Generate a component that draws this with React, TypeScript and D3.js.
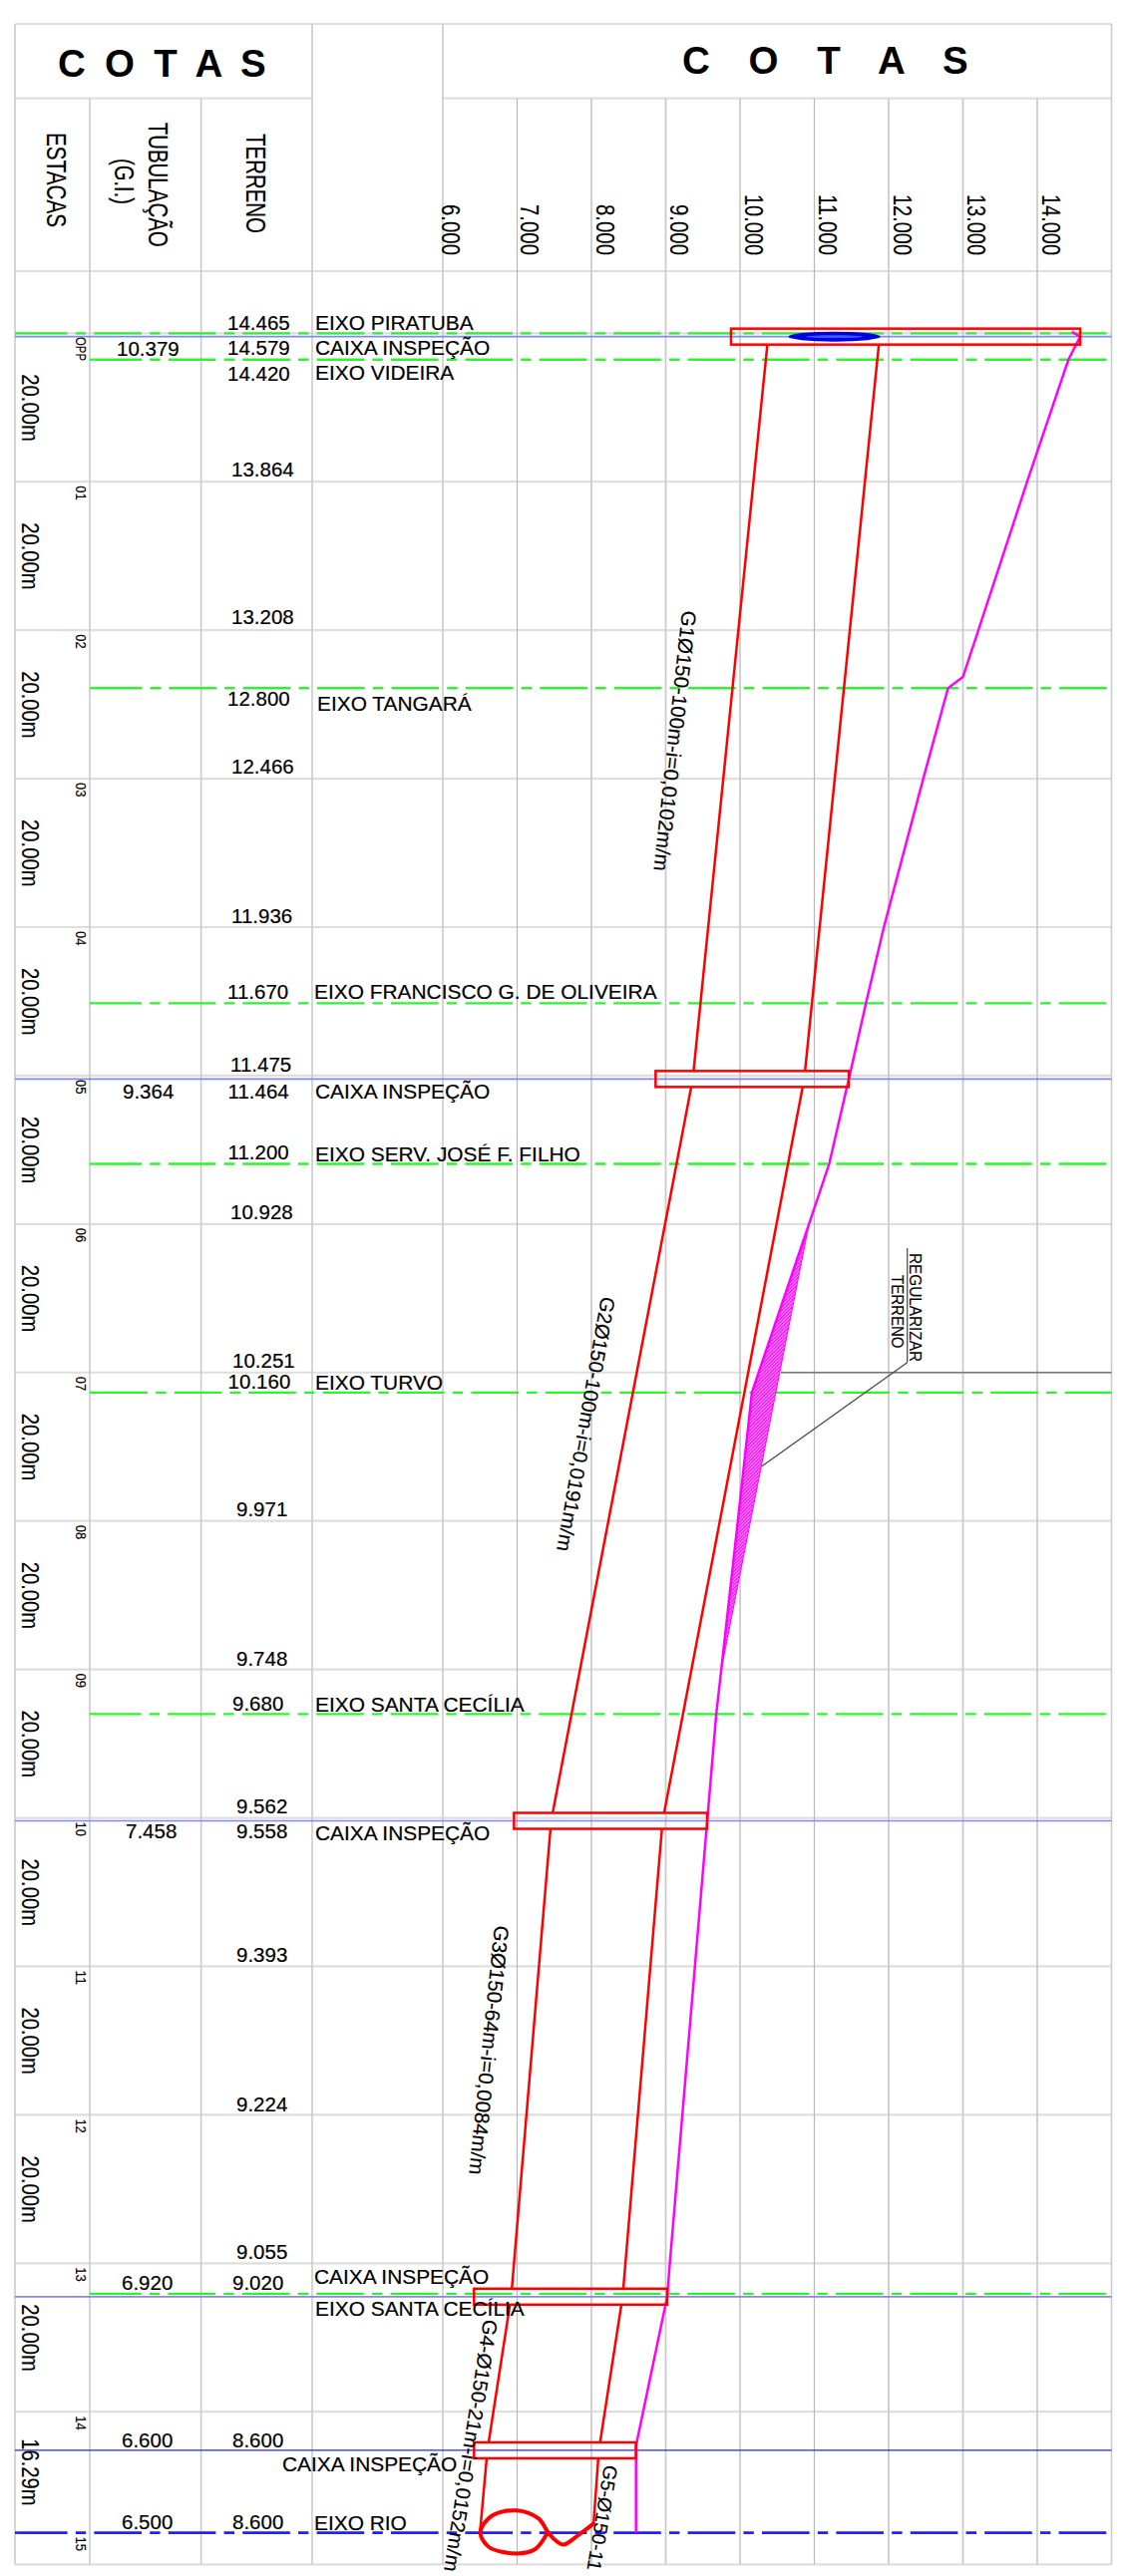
import React from "react";
import * as d3 from "d3";

// ---------- data ----------
const elevationTicks = [6, 7, 8, 9, 10, 11, 12, 13, 14];
const stationNames = ["OPP", "01", "02", "03", "04", "05", "06", "07", "08", "09", "10", "11", "12", "13", "14", "15"];
const stationMetres = [0, 20, 40, 60, 80, 100, 120, 140, 160, 180, 200, 220, 240, 260, 280, 296.29];
const spanLabels = ["20.00m", "20.00m", "20.00m", "20.00m", "20.00m", "20.00m", "20.00m", "20.00m", "20.00m", "20.00m", "20.00m", "20.00m", "20.00m", "20.00m", "16.29m"];

const terrainMetres = [-0.2, 0.45, 3.55, 20, 40, 46.3, 47.8, 60, 80, 90.25, 100, 100.46, 111.9, 120, 140, 142.7, 160, 180, 186, 200, 200.4, 220, 240, 260, 264.5, 284.6, 296.3];
const terrainElevs = [14.465, 14.579, 14.42, 13.864, 13.208, 13.0, 12.8, 12.466, 11.936, 11.695, 11.475, 11.464, 11.2, 10.928, 10.251, 10.16, 9.971, 9.748, 9.68, 9.562, 9.558, 9.393, 9.224, 9.055, 9.02, 8.6, 8.6];

const hatchMetres = [120, 140, 142.7, 160, 180];
const hatchElevs = [10.928, 10.251, 10.16, 9.971, 9.748];

const boxMetres = [0.45, 100.46, 200.4, 264.5, 285.2];
const boxLow = [9.879, 8.864, 6.958, 6.42, 6.42];
const boxHigh = [14.579, 11.464, 9.558, 9.02, 8.6];
const pipeMetres = [0.45, 100.46, 200.4, 264.5, 285.2, 296.3];
const pipeInvert = [10.379, 9.364, 7.458, 6.92, 6.6, 6.5];
const pipeCrown = [11.879, 10.864, 8.958, 8.42, 8.1, 8.02];

const axisGreenMetres = [0, 3.55, 47.8, 90.25, 111.9, 142.7, 186, 264.1];
const caixaBlueMetres = [0.45, 100.46, 200.4, 264.5];
const caixa14Metres = 285.2;
const rioMetres = 296.3;

const loopElevs = [8.027, 7.826, 7.624, 7.513, 7.413, 7.289, 6.997, 6.662, 6.506, 6.617, 6.993, 7.244, 7.413];
const loopMetres = [295.1, 296.6, 297.9, 297.3, 296.2, 294.4, 293.3, 294.0, 296.2, 298.2, 299.1, 298.5, 296.2];

const terrainTexts = ["14.465", "14.579", "14.420", "13.864", "13.208", "12.800", "12.466", "11.936", "11.670", "11.475", "11.464", "11.200", "10.928", "10.251", "10.160", "9.971", "9.748", "9.680", "9.562", "9.558", "9.393", "9.224", "9.055", "9.020", "8.600", "8.600"];
const pipeTexts = ["10.379", "9.364", "7.458", "6.920", "6.600", "6.500"];
const noteTexts = ["EIXO PIRATUBA", "CAIXA INSPEÇÃO", "EIXO VIDEIRA", "EIXO TANGARÁ", "EIXO FRANCISCO G. DE OLIVEIRA", "CAIXA INSPEÇÃO", "EIXO SERV. JOSÉ F. FILHO", "EIXO TURVO", "EIXO SANTA CECÍLIA", "CAIXA INSPEÇÃO", "CAIXA INSPEÇÃO", "EIXO SANTA CECÍLIA", "CAIXA INSPEÇÃO", "EIXO RIO"];
const gradeTexts = ["G1Ø150-100m-i=0,0102m/m", "G2Ø150-100m-i=0,0191m/m", "G3Ø150-64m-i=0,0084m/m", "G4-Ø150-21m-i=0,0152m/m", "G5-Ø150-11"];

// ---------- layout ----------
const terrainPos: [number, number][] = [[228, 331], [228, 356], [228, 381.7], [232, 478], [232, 626], [228, 708], [232, 776], [232, 926], [228, 1002], [231, 1075], [228.6, 1101.7], [228.6, 1163], [231, 1223], [233, 1372], [228.6, 1392.7], [237, 1521], [237, 1670.7], [233, 1715.7], [237, 1819.3], [237, 1844.3], [237, 1968.3], [237, 2118], [237, 2265.7], [233, 2296.7], [233, 2455], [233, 2536.7]];
const pipePos: [number, number][] = [[117, 357], [123, 1101.7], [126, 1844.3], [122, 2296.7], [122, 2455], [122, 2536.7]];
const notePos: [number, number][] = [[316, 331], [316, 356], [316, 380.5], [318, 713], [315, 1002], [316, 1101.7], [316, 1165], [316, 1394], [316, 1717.3], [316, 1846], [315, 2290.7], [316, 2323.3], [283, 2479], [315, 2537.7]];
const gradePos: [number, number, number, number][] = [[684, 612, 6.25, 20.6], [603, 1300, 10, 20.3], [496, 1931, 5.9, 20.6], [485, 2326, 9, 20.4], [606, 2472, 9.4, 19.5]];
const greenPhase = [20, 20, 20.5, 20, 20, 26, 19.5, 19.6];
const tickPos = [-1, 3.5, 4.5, 4.5, 4.5, 4.5, 4.5, 4.5, 4.5];
const columnXs = [15, 90, 201.6, 313];

const W = 1129, H = 2584;
const TOP = 24, HEAD = 98.7, SUB = 272, BOTTOM = 2572.3, LEFT = 15, RIGHT = 1114.5;
const FONT = "'Liberation Sans', Arial, sans-serif";
const x = d3.scaleLinear().domain([6, 15]).range([444, 1114.5]);
const y = d3.scaleLinear().domain([0, 260]).range([334.3, 2270.3]);
const HALF = 8 / 7.446; // half height of the inspection box, in metres

const GREEN = "#2cf52c", PIPE = "#ff0000", MAGENTA = "#ff00ff", GRID = "#cbcbcb", RULE = "#dedede";
const PERIOD = 74.4;
const DASH = "47.6 8.2 10.4 8.2";
const dashOffset = (x0: number, phase: number) => (((x0 - phase) % PERIOD) + PERIOD) % PERIOD;

const line = d3.line<[number, number]>().x(d => x(d[0])).y(d => y(d[1]));
const zip = (es: number[], ms: number[]): [number, number][] => es.map((e, i) => [e, ms[i]]);

function HText({ px, py, size = 20.5, children }: any) {
  return <text x={px} y={py} fontSize={size} fontFamily={FONT} fill="#000" stroke="#000" strokeWidth={0.2}>{children}</text>;
}
function VText({ px, py, size, len, deg = 90, children, fill = "#000" }: any) {
  return (
    <text transform={`translate(${px},${py}) rotate(${deg})`} fontSize={size} textLength={len} lengthAdjust={len ? "spacingAndGlyphs" : undefined} fontFamily={FONT} fill={fill} stroke={fill} strokeWidth={0.15}>
      {children}
    </text>
  );
}
function DashedRule({ x0, my, phase, color, width }: any) {
  const off = dashOffset(x0, phase);
  const firstLong = x0 + (PERIOD - off) % PERIOD;
  return (
    <g stroke={color} strokeWidth={width}>
      <line x1={x0} x2={RIGHT} y1={y(my)} y2={y(my)} strokeDasharray={DASH} strokeDashoffset={off} />
      <line x1={x0} x2={firstLong} y1={y(my)} y2={y(my)} />
    </g>
  );
}

export default function App() {
  const terrainPath = line(zip(terrainElevs, terrainMetres)) as string;
  const hatchPath = (line(zip(hatchElevs, hatchMetres)) as string) + "Z";
  const loopPath = d3.line<[number, number]>().x(d => x(d[0])).y(d => y(d[1])).curve(d3.curveCatmullRom.alpha(0.5))(zip(loopElevs, loopMetres)) as string;

  const pipes: string[] = [];
  for (let i = 0; i < pipeMetres.length - 1; i++) {
    const m0 = pipeMetres[i] + HALF;
    const isLast = i === pipeMetres.length - 2;
    const m1 = isLast ? pipeMetres[i + 1] : pipeMetres[i + 1] - HALF;
    const mCrown = isLast ? loopMetres[0] : m1;
    const inv = d3.scaleLinear().domain([pipeMetres[i], pipeMetres[i + 1]]).range([pipeInvert[i], pipeInvert[i + 1]]);
    const crown = d3.scaleLinear().domain([pipeMetres[i], pipeMetres[i + 1]]).range([pipeCrown[i], pipeCrown[i + 1]]);
    pipes.push(line([[inv(m0), m0], [inv(m1), m1]]) as string);
    pipes.push(line([[crown(m0), m0], [crown(mCrown), mCrown]]) as string);
  }

  return (
    <svg width={W} height={H} viewBox={`0 0 ${W} ${H}`} style={{ position: "absolute", left: 0, top: 0, display: "block", background: "#fff" }}>
      <defs>
        <pattern id="hatch" width="2.4" height="2.4" patternUnits="userSpaceOnUse" patternTransform="rotate(45)">
          <rect width="2.4" height="2.4" fill="#ffa0ff" />
          <rect width="1.3" height="2.4" fill="#ff00ff" />
        </pattern>
      </defs>

      {/* frame */}
      <g stroke={RULE} strokeWidth={2.2}>
        <line x1={LEFT} x2={RIGHT} y1={TOP} y2={TOP} />
        <line x1={LEFT} x2={313} y1={HEAD} y2={HEAD} />
        <line x1={444} x2={RIGHT} y1={HEAD} y2={HEAD} />
        <line x1={LEFT} x2={RIGHT} y1={SUB} y2={SUB} />
        <line x1={LEFT} x2={RIGHT} y1={BOTTOM} y2={BOTTOM} />
        {stationMetres.slice(0, 15).map((m, i) => (
          <line key={i} x1={LEFT} x2={RIGHT} y1={y(m)} y2={y(m)} />
        ))}
      </g>
      <g stroke={GRID} strokeWidth={1.6}>
        <line x1={LEFT} x2={LEFT} y1={TOP} y2={BOTTOM} />
        <line x1={313} x2={313} y1={TOP} y2={BOTTOM} />
        <line x1={444} x2={444} y1={TOP} y2={BOTTOM} />
        <line x1={RIGHT} x2={RIGHT} y1={TOP} y2={BOTTOM} />
        {columnXs.slice(1, 3).map(cx => <line key={cx} x1={cx} x2={cx} y1={HEAD} y2={BOTTOM} />)}
        {elevationTicks.slice(1).map(t => (
          <line key={t} x1={x(t)} x2={x(t)} y1={HEAD} y2={BOTTOM} stroke={t === 7 || t === 11 ? "#b8b8b8" : GRID} strokeWidth={t === 7 || t === 11 ? 1.2 : 1.8} />
        ))}
      </g>

      {/* event lines */}
      {axisGreenMetres.map((m, i) => (
        <DashedRule key={i} x0={i === 0 ? LEFT : 90} my={m} phase={greenPhase[i]} color={GREEN} width={2.3} />
      ))}
      {caixaBlueMetres.map(m => <line key={m} x1={LEFT} x2={RIGHT} y1={y(m)} y2={y(m)} stroke="#8484ff" strokeWidth={1.7} />)}
      <line x1={LEFT} x2={RIGHT} y1={y(caixa14Metres)} y2={y(caixa14Metres)} stroke="#2222ff" strokeWidth={1.3} />
      <DashedRule x0={LEFT} my={rioMetres} phase={20} color="#2020ff" width={2.6} />
      <line x1={783} x2={RIGHT} y1={y(140)} y2={y(140)} stroke="#777" strokeWidth={1.3} />

      {/* terrain */}
      <path d={hatchPath} fill="url(#hatch)" stroke={MAGENTA} strokeWidth={1} />
      <path d={terrainPath} fill="none" stroke={MAGENTA} strokeWidth={2.5} />

      {/* pipes */}
      {pipes.map((d, i) => <path key={i} d={d} fill="none" stroke={PIPE} strokeWidth={2.5} />)}
      {boxMetres.map((m, i) => (
        <rect key={i} x={x(boxLow[i])} y={y(m) - 8} width={x(boxHigh[i]) - x(boxLow[i])} height={16} fill="none" stroke={PIPE} strokeWidth={2.5} />
      ))}
      <path d={loopPath} fill="none" stroke={PIPE} strokeWidth={4} strokeLinejoin="round" strokeLinecap="round" />
      <ellipse cx={x(11.27)} cy={y(0.45)} rx={x(11.89) - x(11.27)} ry={5} fill="#0000e6" />
      <ellipse cx={x(11.27)} cy={y(0.45)} rx={28} ry={1.4} fill="#3a5cff" />

      {/* leader */}
      <line x1={909.7} x2={909.7} y1={1252} y2={1366.7} stroke="#444" strokeWidth={1.2} />
      <line x1={909.7} x2={764} y1={1366.7} y2={1470.7} stroke="#444" strokeWidth={1.2} />
      <VText px={912} py={1257} size={16.5} len={109}>REGULARIZAR</VText>
      <VText px={893.5} py={1279} size={16.5} len={73.5}>TERRENO</VText>

      {/* titles */}
      <text x={58} y={76.5} fontFamily={FONT} fontWeight="bold" fontSize={38.5} wordSpacing={8.5}>C O T A S</text>
      <text x={684} y={73.5} fontFamily={FONT} fontWeight="bold" fontSize={38.5} wordSpacing={28}>C O T A S</text>

      {/* column headers */}
      <VText px={47} py={133} size={27} len={95}>ESTACAS</VText>
      <VText px={149} py={122.7} size={27} len={125}>TUBULAÇÃO</VText>
      <VText px={115} py={159} size={27} len={46}>(G.I.)</VText>
      <VText px={247} py={134} size={27} len={100}>TERRENO</VText>
      {elevationTicks.map((t, i) => {
        const label = d3.format(".3f")(t);
        const len = t >= 10 ? 61 : 51;
        return <VText key={t} px={x(t) + tickPos[i]} py={256 - len} size={25} len={len}>{label}</VText>;
      })}

      {/* stations */}
      {stationNames.map((n, i) => (
        <VText key={i} px={76} py={i === 0 ? 338 : y(stationMetres[i]) + 4} size={14} len={i === 0 ? 24 : 14.5}>{n}</VText>
      ))}
      {spanLabels.map((s, i) => (
        <VText key={i} px={22} py={y(stationMetres[i]) + (i === 14 ? 27 : 41)} size={23} len={67.5}>{s}</VText>
      ))}

      {/* value columns */}
      {terrainTexts.map((t, i) => <HText key={i} px={terrainPos[i][0]} py={terrainPos[i][1]}>{t}</HText>)}
      {pipeTexts.map((t, i) => <HText key={i} px={pipePos[i][0]} py={pipePos[i][1]}>{t}</HText>)}
      {noteTexts.map((t, i) => <HText key={i} px={notePos[i][0]} py={notePos[i][1]} size={20.9}>{t}</HText>)}
      {gradeTexts.map((t, i) => (
        <VText key={i} px={gradePos[i][0]} py={gradePos[i][1]} deg={90 + gradePos[i][2]} size={gradePos[i][3]}>{t}</VText>
      ))}
    </svg>
  );
}
